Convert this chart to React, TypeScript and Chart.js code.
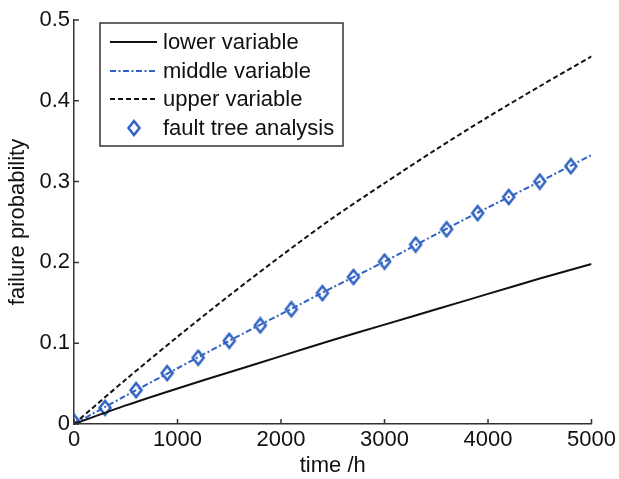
import React, { useEffect, useRef } from "react";
import { Chart, registerables } from "chart.js";

Chart.register(...registerables);

const lineTimes = [0, 500, 1000, 1500, 2000, 2500, 3000, 3500, 4000, 4500, 5000];
const lowerValues = [0, 0.023, 0.044, 0.064, 0.084, 0.104, 0.123, 0.142, 0.161, 0.18, 0.198];
const middleValues = [0, 0.035, 0.069, 0.103, 0.136, 0.169, 0.201, 0.235, 0.268, 0.3, 0.333];
const upperValues = [0, 0.055, 0.108, 0.159, 0.208, 0.255, 0.298, 0.34, 0.38, 0.418, 0.455];
const ftaTimes = [0, 300, 600, 900, 1200, 1500, 1800, 2100, 2400, 2700, 3000, 3300, 3600, 3900, 4200, 4500, 4800];
const ftaValues = [0.003, 0.02, 0.042, 0.063, 0.082, 0.103, 0.122, 0.142, 0.162, 0.182, 0.201, 0.222, 0.241, 0.261, 0.281, 0.3, 0.319];
const legendLabels = ["lower variable", "middle variable", "upper variable", "fault tree analysis"];
const xTicks = [0, 1000, 2000, 3000, 4000, 5000];
const yTicks = [0, 0.1, 0.2, 0.3, 0.4, 0.5];

const BLUE = "#2f62c2";
const FONT = "'Liberation Sans', Arial, sans-serif";
const FS = 22;

function makeDiamond(): HTMLCanvasElement {
  const c = document.createElement("canvas");
  c.width = 16;
  c.height = 18;
  const ctx = c.getContext("2d")!;
  ctx.strokeStyle = BLUE;
  ctx.lineWidth = 2.5;
  ctx.beginPath();
  ctx.moveTo(8, 2);
  ctx.lineTo(13.5, 9);
  ctx.lineTo(8, 16);
  ctx.lineTo(2.5, 9);
  ctx.closePath();
  ctx.stroke();
  return c;
}

export default function App() {
  const ref = useRef<HTMLCanvasElement>(null);
  useEffect(() => {
    document.body.style.margin = "0";
    const diamond = makeDiamond();
    const pts = (xs: number[], ys: number[]) => xs.map((x, i) => ({ x, y: ys[i] }));

    const overlay = {
      id: "overlay",
      afterDraw(chart: any) {
        const ctx = chart.ctx;
        const xs = chart.scales.x;
        const ys = chart.scales.y;
        const area = chart.chartArea;
        ctx.save();
        ctx.strokeStyle = "#333";
        ctx.lineWidth = 1.5;
        ctx.beginPath();
        yTicks.forEach((v) => {
          const y = ys.getPixelForValue(v);
          ctx.moveTo(area.left, y);
          ctx.lineTo(area.left + 5, y);
        });
        xTicks.forEach((v) => {
          const x = xs.getPixelForValue(v);
          ctx.moveTo(x, area.bottom);
          ctx.lineTo(x, area.bottom - 5);
        });
        ctx.stroke();

        // legend
        const bx = 100, by = 23, bw = 243, bh = 123;
        ctx.fillStyle = "#fff";
        ctx.fillRect(bx, by, bw, bh);
        ctx.strokeStyle = "#333";
        ctx.lineWidth = 1.5;
        ctx.strokeRect(bx, by, bw, bh);
        const rows = [42, 71, 99, 128];
        const styles = [
          { color: "#111", dash: [] as number[] },
          { color: BLUE, dash: [6, 2.5, 2, 2.5] },
          { color: "#111", dash: [5, 3] },
        ];
        styles.forEach((s, i) => {
          ctx.strokeStyle = s.color;
          ctx.lineWidth = 2;
          ctx.setLineDash(s.dash);
          ctx.beginPath();
          ctx.moveTo(110, rows[i]);
          ctx.lineTo(157, rows[i]);
          ctx.stroke();
        });
        ctx.setLineDash([]);
        ctx.drawImage(diamond, 134 - 8, rows[3] - 9);
        ctx.fillStyle = "#111";
        ctx.font = `${FS}px ${FONT}`;
        ctx.textBaseline = "middle";
        ctx.textAlign = "left";
        legendLabels.forEach((t, i) => ctx.fillText(t, 163, rows[i] + 1));
        ctx.restore();
      },
    };

    const chart = new Chart(ref.current!, {
      type: "scatter",
      data: {
        datasets: [
          {
            label: legendLabels[0],
            data: pts(lineTimes, lowerValues),
            showLine: true,
            borderColor: "#111",
            borderWidth: 2,
            pointRadius: 0,
            tension: 0.3,
          },
          {
            label: legendLabels[1],
            data: pts(lineTimes, middleValues),
            showLine: true,
            borderColor: BLUE,
            borderWidth: 2,
            borderDash: [6, 2.5, 2, 2.5],
            pointRadius: 0,
            tension: 0.3,
          },
          {
            label: legendLabels[2],
            data: pts(lineTimes, upperValues),
            showLine: true,
            borderColor: "#111",
            borderWidth: 2,
            borderDash: [5, 3],
            pointRadius: 0,
            tension: 0.3,
          },
          {
            label: legendLabels[3],
            data: pts(ftaTimes, ftaValues),
            showLine: false,
            pointStyle: diamond as any,
            pointRadius: 7,
            borderColor: BLUE,
            backgroundColor: "transparent",
          },
        ],
      },
      options: {
        animation: false,
        responsive: false,
        layout: { padding: { left: 0, top: 20, right: 26, bottom: 0 } },
        plugins: { legend: { display: false }, tooltip: { enabled: false } },
        scales: {
          x: {
            type: "linear",
            min: 0,
            max: 5000,
            afterBuildTicks: (s: any) => {
              s.ticks = xTicks.map((v) => ({ value: v }));
            },
            afterFit: (s: any) => {
              s.height = 55;
            },
            ticks: {
              font: { family: FONT, size: FS },
              color: "#111",
              padding: 3,
              callback: (v: any) => String(v),
            },
            grid: { display: false, drawTicks: false },
            border: { display: true, color: "#333", width: 1.5 },
            title: {
              display: true,
              text: "time /h",
              font: { family: FONT, size: FS },
              color: "#111",
              padding: { top: 2, bottom: 0 },
            },
          },
          y: {
            type: "linear",
            min: 0,
            max: 0.5,
            afterBuildTicks: (s: any) => {
              s.ticks = yTicks.map((v) => ({ value: v }));
            },
            afterFit: (s: any) => {
              s.width = 74;
            },
            ticks: {
              font: { family: FONT, size: FS },
              color: "#111",
              padding: 4,
              callback: (v: any) => (Number(v) === 0 ? "0" : Number(v).toFixed(1)),
            },
            grid: { display: false, drawTicks: false },
            border: { display: true, color: "#333", width: 1.5 },
            title: {
              display: true,
              text: "failure probability",
              font: { family: FONT, size: FS },
              color: "#111",
              padding: { top: 5, bottom: 0 },
            },
          },
        },
      },
      plugins: [overlay],
    });
    return () => chart.destroy();
  }, []);
  return <canvas ref={ref} width={619} height={479} style={{ display: "block" }} />;
}
